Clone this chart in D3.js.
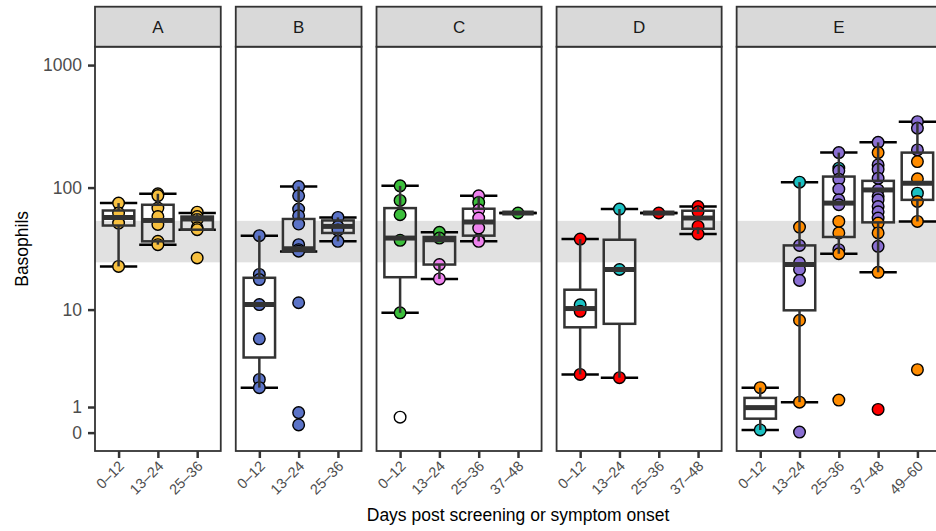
<!DOCTYPE html>
<html><head><meta charset="utf-8">
<script src="https://cdn.jsdelivr.net/npm/d3@7"></script>
<style>body{margin:0;background:#fff}svg{display:block;font-family:"Liberation Sans",Arial,Helvetica,sans-serif}</style>
</head><body><svg id="c" width="936" height="531"></svg>
<script>
// ---------- data ----------
const facets = ["A", "B", "C", "D", "E"];
const periods = ["0–12", "13–24", "25–36", "37–48", "49–60"];
const facetPeriodCount = [3, 3, 4, 4, 5];
const yTickValues = [0, 1, 10, 100, 1000];
const yLimits = [0, 1000];
const refRange = [24.5, 53.5];

// boxplot statistics per facet / period
const boxFacet  = ["A","A","A","B","B","B","C","C","C","C","D","D","D","D","E","E","E","E","E"];
const boxPeriod = [0,1,2, 0,1,2, 0,1,2,3, 0,1,2,3, 0,1,2,3,4];
const boxLow    = [22.7,34.2,45.3, 1.9,30.0,36.4, 9.4,17.9,36.4,62, 2.65,2.45,62,41.8, 0.1,1.21,28.8,20.3,52.9];
const boxQ1     = [49,36.4,45.3, 3.86,30.4,42.6, 18.5,23.5,40.5,62, 7.1,7.6,62,46.1, 0.53,9.86,39.5,52,79.4];
const boxMed    = [57,53.9,55.4, 11,31.6,48.2, 38.7,37.5,52.3,62, 10.2,21.4,62,56.4, 0.975,23.5,74.7,95.7,108.7];
const boxQ3     = [65,72.4,58, 18.3,55.4,53.9, 68,39.5,67.2,62, 14.6,37.5,62,64.7, 1.40,33.7,123,113.5,193];
const boxHigh   = [74.7,89,62, 40.5,102,57.1, 103.3,43.1,85.7,62, 38,66.8,62,70.1, 1.9,110.8,193,234,345];

// individual points
const ptFacet = [
 "A","A","A","A", "A","A","A","A","A","A","A", "A","A","A","A","A","A",
 "B","B","B","B","B","B","B", "B","B","B","B","B","B","B","B","B","B","B", "B","B","B","B",
 "C","C","C","C","C","C", "C","C","C","C", "C","C","C","C","C","C","C", "C",
 "D","D","D","D", "D","D","D", "D", "D","D","D","D",
 "E","E", "E","E","E","E","E","E","E","E","E",
 "E","E","E","E","E","E","E","E","E","E","E","E",
 "E","E","E","E","E","E","E","E","E","E","E","E","E","E","E","E",
 "E","E","E","E","E","E","E","E","E"];
const ptPeriod = [
 0,0,0,0, 1,1,1,1,1,1,1, 2,2,2,2,2,2,
 0,0,0,0,0,0,0, 1,1,1,1,1,1,1,1,1,1,1, 2,2,2,2,
 0,0,0,0,0,0, 1,1,1,1, 2,2,2,2,2,2,2, 3,
 0,0,0,0, 1,1,1, 2, 3,3,3,3,
 0,0, 1,1,1,1,1,1,1,1,1,
 2,2,2,2,2,2,2,2,2,2,2,2,
 3,3,3,3,3,3,3,3,3,3,3,3,3,3,3,3,
 4,4,4,4,4,4,4,4,4];
const ptValue = [
 74.7,62,51.3,22.7, 89,86,68,58,50,36.4,34.2, 63,58,55,47,45.3,26.6,
 40.5,19.5,17.7,11,5.66,2.35,1.9, 102,85.7,66.8,58.9,50.4,34.2,31.1,30.2,11.4,0.77,0.29, 57.1,48,45,36.4,
 103.3,78.5,60,37.1,9.4,0.59, 43.1,38.7,23.5,17.9, 85.7,75.6,65.9,56.4,46.7,37.5,36.4, 62,
 38,10.95,9.67,2.65, 66.8,21.4,2.45, 62, 70,63.5,48.2,41.8,
 1.9,0.1, 110.8,47.6,33.7,24.3,21.4,17.4,8.14,1.21,0.02,
 193,144,137,117,97,79.4,72.4,52.9,42.6,31.1,28.8,1.30,
 234,193,153,141,119,95.7,84.5,79.4,70.1,63.5,56.4,51.3,42.6,33.1,20.3,0.90,
 345,305,203,163,118,90,77,52.9,2.96];
const ptGroup = [
 "Y","Y","Y","Y", "Y","Y","Y","Y","Y","Y","Y", "Y","Y","Y","Y","Y","Y",
 "B","B","B","B","B","B","B", "B","B","B","B","B","B","B","B","B","B","B", "B","B","B","B",
 "G","G","G","G","G","W", "G","G","P","P", "P","G","P","P","P","G","P", "G",
 "R","T","R","R", "T","T","R", "R", "R","R","R","R",
 "O","T", "T","O","U","U","U","U","O","O","U",
 "U","T","U","U","U","U","U","O","O","U","O","O",
 "U","O","U","U","U","U","U","U","U","U","U","O","O","U","O","R",
 "U","U","U","O","O","T","O","O","O"];
const groupKeys   = ["Y","B","G","P","W","R","T","U","O"];
const groupColors = ["#F7C03F","#5B73C7","#3CBF3C","#EE82EE","#FFFFFF","#FF0000","#1BC0C2","#8A6FD2","#FF8C00"];

// ---------- layout ----------
const plotLeft = 95, plotTop = 46.7, plotBottom = 451, stripTop = 6.7;
const unit = 39.3, gap = 15, catPad = 0.6;
const svg = d3.select("#c");

const pl = v => Math.asinh(v / 2) / Math.LN10;   // pseudo-log (sigma = 1, base 10)
const tr = [pl(yLimits[0]), pl(yLimits[1])];
const ex = (tr[1] - tr[0]) * 0.05;
const y = d3.scaleLinear().domain([tr[0] - ex, tr[1] + ex]).range([plotBottom, plotTop]);
const yv = v => y(pl(v));
const color = d3.scaleOrdinal().domain(groupKeys).range(groupColors);

let cursor = plotLeft;
const panels = facets.map((f, i) => {
  const n = facetPeriodCount[i];
  const w = (n - 1 + 2 * catPad) * unit;
  const p = {facet: f, x0: cursor, w: w,
    x: d3.scalePoint().domain(periods.slice(0, n)).range([cursor, cursor + w]).padding(catPad)};
  cursor += w + gap;
  return p;
});

const boxes = boxFacet.map((f, i) => ({f, p: periods[boxPeriod[i]], lo: boxLow[i], q1: boxQ1[i], med: boxMed[i], q3: boxQ3[i], hi: boxHigh[i]}));
const points = ptFacet.map((f, i) => ({f, p: periods[ptPeriod[i]], v: ptValue[i], g: ptGroup[i]}));

const boxW = 0.8 * unit, capW = 0.95 * unit;
const lineCol = "#333333";
const lw = 2.5;

panels.forEach(P => {
  const g = svg.append("g");
  g.append("rect").attr("x", P.x0).attr("y", plotTop).attr("width", P.w).attr("height", plotBottom - plotTop).attr("fill", "#fff");
  g.append("rect").attr("x", P.x0).attr("width", P.w)
    .attr("y", yv(refRange[1])).attr("height", yv(refRange[0]) - yv(refRange[1]))
    .attr("fill", "#e1e1e1");
  const bs = boxes.filter(b => b.f === P.facet);
  const ps = points.filter(d => d.f === P.facet);
  bs.forEach(b => {
    const cx = P.x(b.p);
    [b.lo, b.hi].forEach(v => g.append("line").attr("x1", cx - capW / 2).attr("x2", cx + capW / 2)
      .attr("y1", yv(v)).attr("y2", yv(v)).attr("stroke", "#000").attr("stroke-width", lw));
  });
  g.selectAll("circle.pt").data(ps).join("circle").attr("class", "pt")
    .attr("cx", d => P.x(d.p)).attr("cy", d => yv(d.v)).attr("r", 5.8)
    .attr("fill", d => color(d.g)).attr("stroke", "#000").attr("stroke-width", 1.4);
  bs.forEach(b => {
    const cx = P.x(b.p);
    g.append("line").attr("x1", cx).attr("x2", cx).attr("y1", yv(b.hi)).attr("y2", yv(b.q3)).attr("stroke", lineCol).attr("stroke-width", lw);
    g.append("line").attr("x1", cx).attr("x2", cx).attr("y1", yv(b.q1)).attr("y2", yv(b.lo)).attr("stroke", lineCol).attr("stroke-width", lw);
    g.append("rect").attr("x", cx - boxW / 2).attr("width", boxW)
      .attr("y", yv(b.q3)).attr("height", Math.max(0, yv(b.q1) - yv(b.q3)))
      .attr("fill", "none").attr("stroke", lineCol).attr("stroke-width", lw);
    g.append("line").attr("x1", cx - boxW / 2).attr("x2", cx + boxW / 2).attr("y1", yv(b.med)).attr("y2", yv(b.med))
      .attr("stroke", lineCol).attr("stroke-width", 5);
  });
  g.append("rect").attr("x", P.x0).attr("y", plotTop).attr("width", P.w).attr("height", plotBottom - plotTop)
    .attr("fill", "none").attr("stroke", lineCol).attr("stroke-width", 1.8);
  g.append("rect").attr("x", P.x0).attr("y", stripTop).attr("width", P.w).attr("height", plotTop - stripTop)
    .attr("fill", "#d9d9d9").attr("stroke", lineCol).attr("stroke-width", 1.8);
  g.append("text").attr("x", P.x0 + P.w / 2).attr("y", (stripTop + plotTop) / 2).attr("dy", "0.35em")
    .attr("text-anchor", "middle").attr("font-size", 17).attr("fill", "#1a1a1a").text(P.facet);
  const ax = g.append("g").attr("transform", `translate(0,${plotBottom})`)
    .call(d3.axisBottom(P.x).tickSize(7).tickSizeOuter(0));
  ax.select(".domain").remove();
  ax.selectAll(".tick line").attr("stroke", lineCol).attr("stroke-width", lw);
  ax.selectAll(".tick text").attr("font-size", 14.5).attr("fill", "#4d4d4d")
    .attr("text-anchor", "end").attr("dy", null).attr("y", 0).attr("x", 0)
    .attr("transform", "translate(6,16) rotate(-45)");
});

const yAx = svg.append("g").attr("transform", `translate(${plotLeft},0)`)
  .call(d3.axisLeft(y).tickValues(yTickValues.map(pl)).tickFormat((t, i) => yTickValues[i]).tickSize(7).tickPadding(6));
yAx.select(".domain").remove();
yAx.selectAll(".tick line").attr("stroke", lineCol).attr("stroke-width", lw);
yAx.selectAll(".tick text").attr("font-size", 17.5).attr("fill", "#4d4d4d");

svg.append("text").attr("transform", `translate(28,${(plotTop + plotBottom) / 2}) rotate(-90)`)
  .attr("text-anchor", "middle").attr("font-size", 17.5).attr("fill", "#000").text("Basophils");
svg.append("text").attr("x", (plotLeft + cursor - gap) / 2).attr("y", 521)
  .attr("text-anchor", "middle").attr("font-size", 17.5).attr("fill", "#000").text("Days post screening or symptom onset");
</script></body></html>
